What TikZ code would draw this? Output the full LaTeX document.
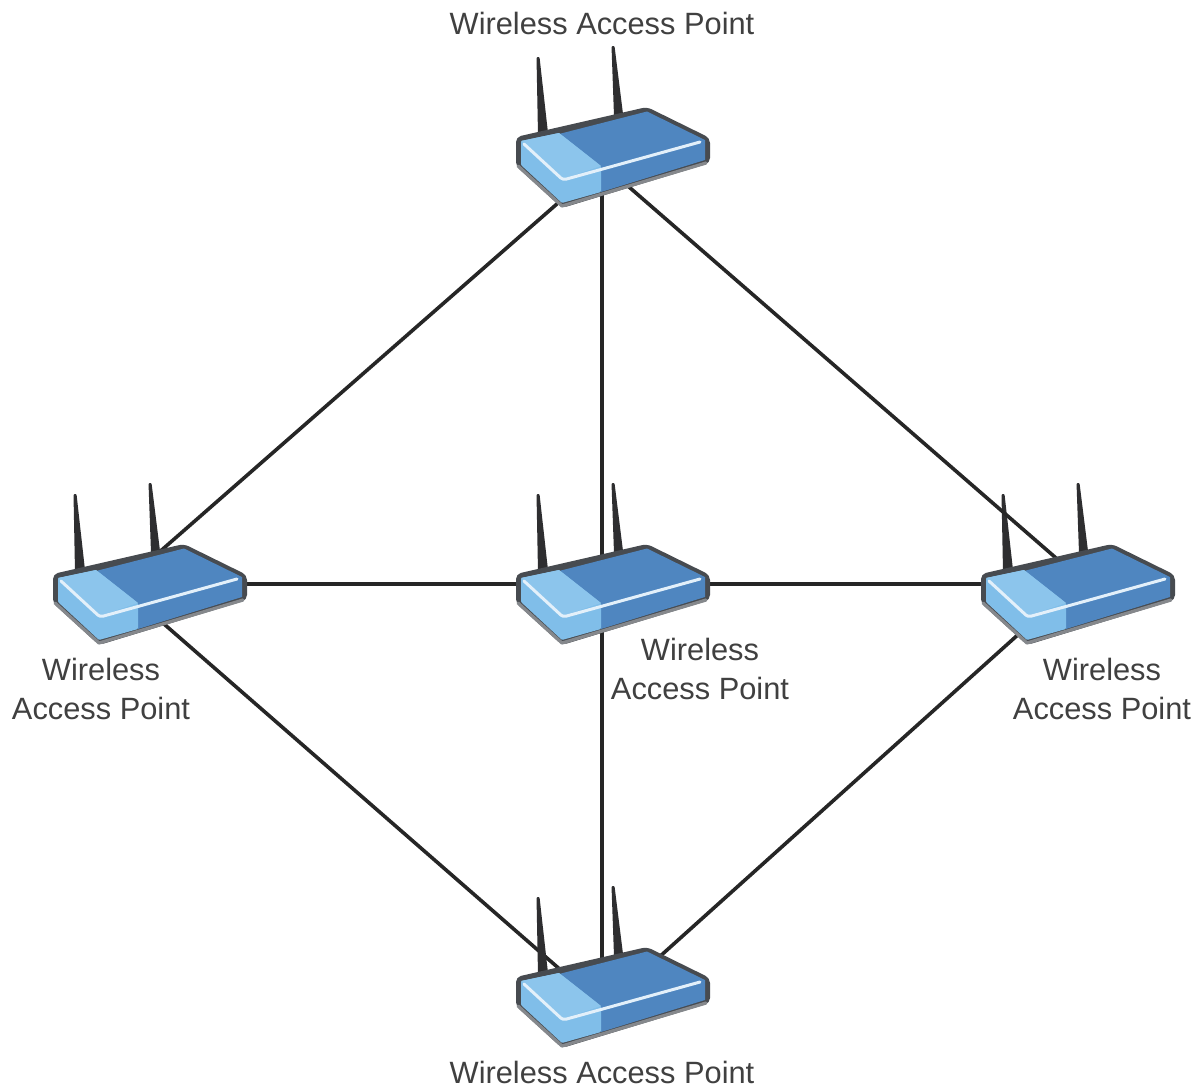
\documentclass[tikz,border=0pt]{standalone}
\usepackage{fontspec}
\setmainfont{Liberation Sans}
\definecolor{linkc}{HTML}{262626}
\definecolor{txtc}{HTML}{404040}
\definecolor{antc}{HTML}{2E2E30}
\definecolor{edgedark}{HTML}{474B50}
\definecolor{edgegrey}{HTML}{85888C}
\definecolor{lighttop}{HTML}{8CC5EC}
\definecolor{lightside}{HTML}{80BEE9}
\definecolor{darkblue}{HTML}{4F86C0}
\definecolor{glow}{HTML}{E3F0FA}
\tikzset{
  x=1pt,y=-1pt,
  link/.style={draw=linkc,line width=3.6pt},
  aplabel/.style={text=txtc,align=center,inner sep=0pt,font=\fontsize{30.8}{39}\selectfont},
  routerports/.pic={
    \coordinate (-nl) at (47,24);
    \coordinate (-nm) at (75,13);
    \coordinate (-n) at (86,14);
    \coordinate (-nr) at (103,10);
    \coordinate (-nrr) at (141,11);
    \coordinate (-sl) at (40,87);
    \coordinate (-sll) at (50,88);
    \coordinate (-s) at (86,80);
    \coordinate (-se) at (103,72);
    \coordinate (-sr) at (105,72);
    \coordinate (-e) at (185,39);
    \coordinate (-w) at (8,39);
  },
  routerant/.pic={
    \fill[antc,rounded corners=1pt] (20.5,-51) -- (23.5,-51) -- (32,25) -- (22,27) -- cycle;
    \fill[antc,rounded corners=1pt] (95.5,-62) -- (98.5,-62) -- (107,6) -- (98,8) -- cycle;
  },
  routerbody/.pic={
    % outer shell
    \fill[edgedark,rounded corners=5pt] (0,29) -- (131,-1) -- (194,30) -- (194,55) -- (46,100) -- (0,58) -- cycle;
    % lower grey rim
    \draw[edgegrey,line width=3.2pt,line cap=round,line join=round] (2,58) -- (46,98) -- (190,55);
    % dark blue
    \fill[darkblue,line join=round] (43,26) -- (131,3.5) -- (189,32) -- (189,52) -- (85,84) -- (85,58) -- cycle;
    % light blue
    \fill[lightside,rounded corners=1pt] (5,33) -- (43,25) -- (85,58) -- (85,84) -- (46,95) -- (5,57) -- cycle;
    \fill[lighttop] (5,33) -- (43,25) -- (85,58) -- (46,71) -- cycle;
    % highlight
    \draw[glow,line width=3pt,line cap=round,line join=round,rounded corners=3pt] (8,36) -- (47,72) -- (184,34);
  },
}
\begin{document}
\begin{tikzpicture}
\useasboundingbox[fill=white] (0,0) rectangle (1196,1088);
% ports
\pic (top) at (516,108) {routerports};
\pic (lft) at (53,545) {routerports};
\pic (mid) at (516,545) {routerports};
\pic (rgt) at (981,545) {routerports};
\pic (bot) at (516,948) {routerports};
% antennas under the links
\pic at (981,545) {routerant};
% links
\draw[link] (top-sll) -- (lft-nr);
\draw[link] (top-s) -- (mid-n);
\draw[link] (top-sr) -- (rgt-nm);
\draw[link] (lft-e) -- (mid-w);
\draw[link] (mid-e) -- (rgt-w);
\draw[link] (lft-se) -- (bot-nl);
\draw[link] (mid-s) -- (bot-n);
\draw[link] (rgt-sl) -- (bot-nrr);
% routers
\pic at (516,108) {routerant};
\pic at (53,545) {routerant};
\pic at (516,545) {routerant};
\pic at (516,948) {routerant};
\pic at (516,108) {routerbody};
\pic at (53,545) {routerbody};
\pic at (516,545) {routerbody};
\pic at (981,545) {routerbody};
\pic at (516,948) {routerbody};
% labels
\node[aplabel] (ltop) at (602,23) {Wireless Access Point};
\node[aplabel] (lbot) at (602,1072) {Wireless Access Point};
\node[aplabel] (llft) at (101,688.5) {Wireless\\Access Point};
\node[aplabel] (lmid) at (700,668.5) {Wireless\\Access Point};
\node[aplabel] (lrgt) at (1102,688.5) {Wireless\\Access Point};
\end{tikzpicture}
\end{document}
